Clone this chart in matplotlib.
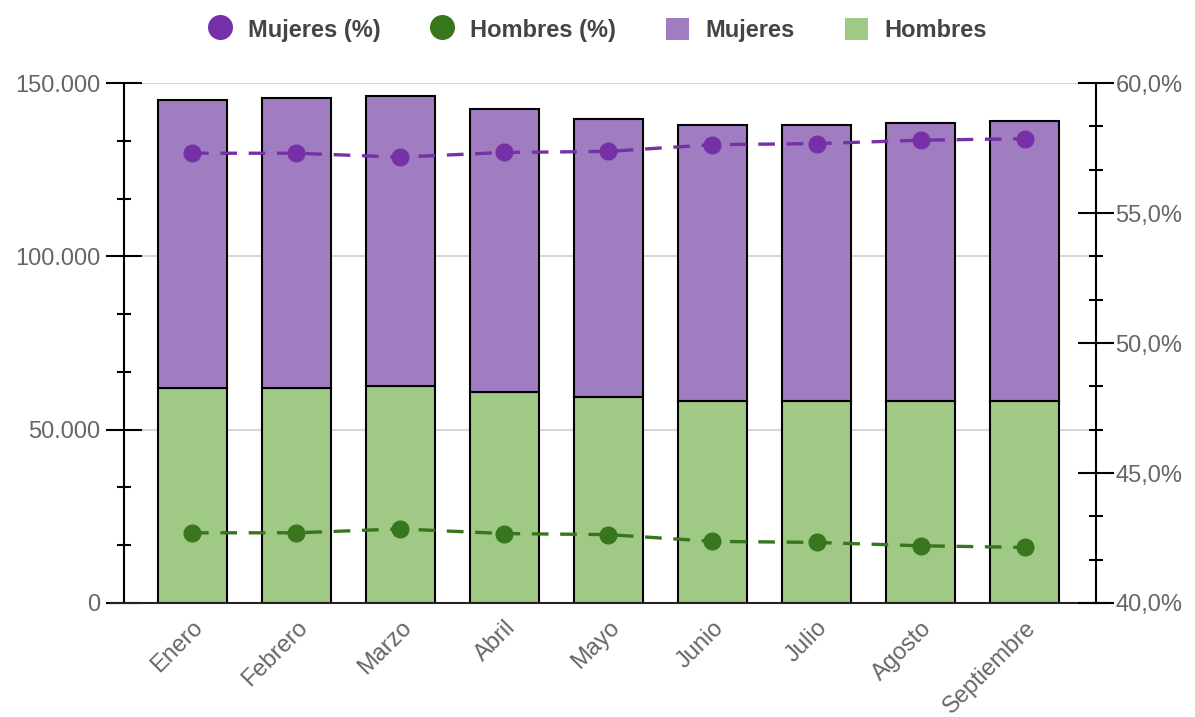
import matplotlib
matplotlib.use("Agg")
import matplotlib.pyplot as plt
import numpy as np
from matplotlib.lines import Line2D
from matplotlib.patches import Patch
from matplotlib.ticker import FuncFormatter, MultipleLocator

plt.rcParams['font.family'] = ['Liberation Sans', 'DejaVu Sans']

# data
meses = ["Enero", "Febrero", "Marzo", "Abril", "Mayo", "Junio", "Julio", "Agosto", "Septiembre"]
hombres = [62000, 62000, 62600, 60900, 59500, 58200, 58200, 58300, 58300]
mujeres = [83100, 83700, 83600, 81600, 80100, 79700, 79700, 80200, 80700]
mujeres_pct = [57.30, 57.30, 57.15, 57.33, 57.37, 57.63, 57.67, 57.80, 57.86]
hombres_pct = [42.70, 42.70, 42.85, 42.67, 42.63, 42.37, 42.33, 42.20, 42.14]

c_muj_bar = '#A07CC0'
c_hom_bar = '#A1C986'
c_muj_line = '#7631A8'
c_hom_line = '#38761D'
grey = '#666666'

fig = plt.figure(figsize=(11.95, 7.17), dpi=100)
ax = fig.add_axes([0.1038, 0.159, 0.8133, 0.7252])

ind = np.arange(len(meses))
width = 0.663

ax.bar(ind, hombres, width, color=c_hom_bar, edgecolor='black', linewidth=1.5, zorder=2)
ax.bar(ind, mujeres, width, bottom=hombres, color=c_muj_bar, edgecolor='black', linewidth=1.5, zorder=2)

ax.set_xlim(-0.653, 8.684)
ax.set_ylim(0, 150000)
ax.yaxis.set_major_locator(MultipleLocator(50000))
ax.yaxis.set_minor_locator(MultipleLocator(50000 / 3))
ax.yaxis.set_major_formatter(FuncFormatter(lambda v, p: f"{int(v):,}".replace(",", ".")))
ax.grid(axis='y', color='#d0d0d0', linewidth=1.2)
ax.set_axisbelow(True)

ax.set_xticks(ind)
ax.set_xticklabels(meses, rotation=45, ha='right', va='top', rotation_mode='anchor')
ax.tick_params(axis='x', length=0, pad=10, labelsize=17, labelcolor=grey)
ax.tick_params(axis='y', which='major', direction='inout', length=26, width=1.5, pad=4,
               labelsize=17, labelcolor=grey)
ax.tick_params(axis='y', which='minor', direction='inout', length=10, width=1.5)

for s in ['top', 'right']:
    ax.spines[s].set_visible(False)
ax.spines['left'].set_linewidth(1.5)
ax.spines['bottom'].set_visible(False)
ax.plot([-0.013, 1.013], [0, 0], transform=ax.transAxes, color='#222222', lw=1.5, clip_on=False, zorder=3)

ax2 = ax.twinx()
ax2.plot(ind, mujeres_pct, color=c_muj_line, lw=2.4, linestyle=(0, (5, 3.5)), marker='o', markersize=12, zorder=4)
ax2.plot(ind, hombres_pct, color=c_hom_line, lw=2.4, linestyle=(0, (5, 3.5)), marker='o', markersize=12, zorder=4)
ax2.set_ylim(40, 60)
ax2.yaxis.set_major_locator(MultipleLocator(5))
ax2.yaxis.set_minor_locator(MultipleLocator(5 / 3))
ax2.yaxis.set_major_formatter(FuncFormatter(lambda v, p: f"{v:.1f}%".replace(".", ",")))
ax2.tick_params(axis='y', which='major', direction='inout', length=26, width=1.5, pad=1,
                labelsize=17, labelcolor=grey)
ax2.tick_params(axis='y', which='minor', direction='inout', length=10, width=1.5)
for s in ['top', 'left', 'bottom']:
    ax2.spines[s].set_visible(False)
ax2.spines['right'].set_linewidth(1.5)

handles = [
    Line2D([], [], color=c_muj_line, marker='o', linestyle='none', markersize=17),
    Line2D([], [], color=c_hom_line, marker='o', linestyle='none', markersize=17),
    Patch(facecolor=c_muj_bar),
    Patch(facecolor=c_hom_bar),
]
labels = ["Mujeres (%)", "Hombres (%)", "Mujeres", "Hombres"]
fig.legend(handles, labels, loc='center', bbox_to_anchor=(0.5, 1 - 30 / 717), ncol=4, frameon=False,
           prop={'size': 17, 'weight': 'bold'}, labelcolor='#444444', handlelength=1.0,
           handleheight=1.1, columnspacing=2.1, handletextpad=0.7)

plt.savefig("out.png", dpi=100)
